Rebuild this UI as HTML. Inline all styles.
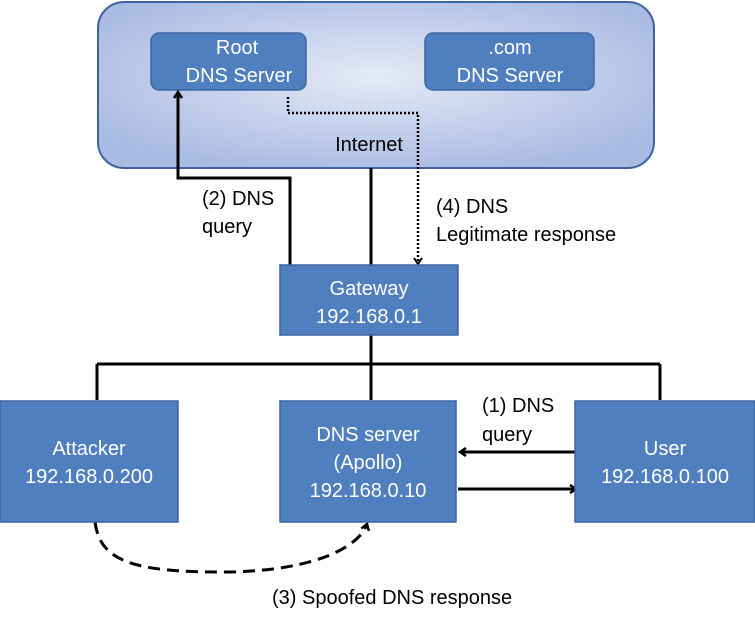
<!DOCTYPE html>
<html><head><style>
body{margin:0;width:755px;height:624px;background:#fff;overflow:hidden;font-family:"Liberation Sans",sans-serif}
</style></head><body>
<svg width="755" height="624" viewBox="0 0 755 624" xmlns="http://www.w3.org/2000/svg" font-family="Liberation Sans, sans-serif">
<defs>
<radialGradient id="g" cx="0.5" cy="0.45" r="0.6">
<stop offset="0" stop-color="#e4eaf6"/><stop offset="1" stop-color="#a9bbe2"/>
</radialGradient>
<marker id="a" markerWidth="10" markerHeight="10" refX="7" refY="5" orient="auto" markerUnits="userSpaceOnUse">
<path d="M1,1 L7,5 L1,9" fill="none" stroke="#000" stroke-width="2.5"/></marker>
<marker id="a2" markerWidth="10" markerHeight="10" refX="7" refY="5" orient="auto" markerUnits="userSpaceOnUse">
<path d="M1,1 L7,5 L1,9" fill="none" stroke="#000" stroke-width="2"/></marker>
</defs>
<rect x="98" y="2" width="556" height="166" rx="26" fill="url(#g)" stroke="#3f62a0" stroke-width="2"/>
<rect x="151" y="33" width="155" height="57" rx="8" fill="#4f7fbe" stroke="#3d67a5" stroke-width="1.5"/>
<rect x="425" y="33" width="169" height="57" rx="8" fill="#4f7fbe" stroke="#3d67a5" stroke-width="1.5"/>
<g fill="#fff" font-size="20" text-anchor="middle">
<text x="237" y="54">Root</text><text x="239" y="82">DNS Server</text>
<text x="510" y="54">.com</text><text x="510" y="82">DNS Server</text>
</g>
<text x="369" y="151" font-size="20" text-anchor="middle">Internet</text>
<g stroke="#000" stroke-width="3" fill="none">
<path d="M290,265 V178 H178 V92" marker-end="url(#a)"/>
<path d="M371,168 V265"/>
<path d="M371,335 V364 M97,364 H660 M97,364 V400 M371,364 V400 M660,364 V400"/>
<path d="M575,452 H460" marker-end="url(#a)"/>
<path d="M458,489 H576" marker-end="url(#a)"/>
<path d="M95,522 C100,560 130,573 230,572 C320,570 360,545 367,524" stroke-dasharray="12,7" marker-end="url(#a)"/>
</g>
<path d="M288,97 V113 H418 V264" stroke="#000" stroke-width="2.5" stroke-dasharray="2,2" fill="none" marker-end="url(#a2)"/>
<g font-size="20">
<text x="202" y="205">(2) DNS</text><text x="202" y="233">query</text>
<text x="436" y="213">(4) DNS</text><text x="436" y="241">Legitimate response</text>
<text x="482" y="412">(1)  DNS</text><text x="482" y="441">query</text>
<text x="272" y="604">(3) Spoofed DNS response</text>
</g>
<g fill="#4f7fbe" stroke="#3d67a5" stroke-width="1.5">
<rect x="280" y="265" width="178" height="70"/>
<rect x="0" y="401" width="178" height="121"/>
<rect x="280" y="401" width="176" height="121"/>
<rect x="575" y="401" width="180" height="121"/>
</g>
<g fill="#fff" font-size="20" text-anchor="middle">
<text x="369" y="295">Gateway</text><text x="369" y="323">192.168.0.1</text>
<text x="89" y="455">Attacker</text><text x="89" y="483">192.168.0.200</text>
<text x="368" y="441">DNS server</text><text x="368" y="469">(Apollo)</text><text x="368" y="497">192.168.0.10</text>
<text x="665" y="455">User</text><text x="665" y="483">192.168.0.100</text>
</g>
</svg>
</body></html>
